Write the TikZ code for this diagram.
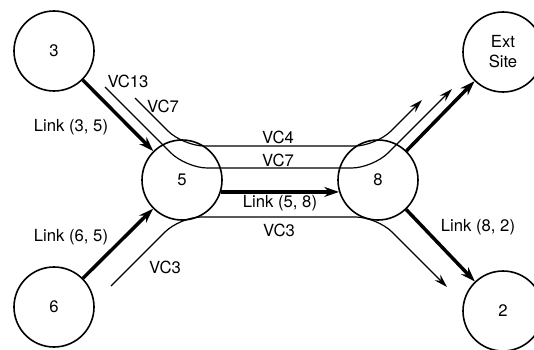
\documentclass[tikz,border=0pt]{standalone}
\usepackage{fontspec}
\setmainfont{TeX Gyre Heros}
\usetikzlibrary{arrows.meta}

\begin{document}
\begin{tikzpicture}[x=0.75pt,y=-0.75pt,
  site/.style={circle,draw,line width=1.2pt,minimum size=60pt,inner sep=0pt,
    align=center,font=\fontsize{12.5}{15}\selectfont},
  link/.style={line width=2.6pt,-{Stealth[length=11pt,width=7.5pt]}},
  vc/.style={line width=0.9pt,rounded corners=16pt,-{Stealth[length=10pt,width=6pt]}},
  lbl/.style={inner sep=0pt,font=\fontsize{12.5}{15}\selectfont}]

\useasboundingbox (0,0) rectangle (534,349);
\clip (0,0) rectangle (534,349);

% sites
\node[site] (n3) at (54,51) {3};
\node[site] (n5) at (182,180) {5};
\node[site] (n8) at (378,180) {8};
\node[site] (n6) at (54,307) {6};
\node[site] (n2) at (503,311) {2};
\node[site] (next) at (503,52) {Ext\\Site};

% links
\draw[link] (n3) -- (n5);
\draw[link] (n6) -- (n5);
\draw[link] (n5.-17) -- (n8.197);
\draw[link] (n8) -- (next);
\draw[link] (n8) -- (n2);

% virtual circuits
\coordinate (in13) at (105,87);
\coordinate (in7) at (135,98);
\coordinate (in3) at (111,286);
\coordinate (out4) at (422,100);
\coordinate (out7) at (452,89);
\coordinate (out3) at (447,287);

\draw[vc] (in13) -- (186,168) -- (373,168) -- (out7);
\draw[vc] (in7) -- (183,146) -- (376,146) -- (out4);
\draw[vc] (in3) -- (180,217) -- (377,217) -- (out3);

% labels
\node[lbl] (l35) at (71,127) {Link (3, 5)};
\node[lbl] (lvc13) at (128,81) {VC13};
\node[lbl] (lvc7a) at (163,106) {VC7};
\node[lbl] (lvc4) at (278,137) {VC4};
\node[lbl] (lvc7b) at (278,160) {VC7};
\node[lbl] (l58) at (280,203) {Link (5, 8)};
\node[lbl] (lvc3b) at (279,230) {VC3};
\node[lbl] (l65) at (71,237) {Link (6, 5)};
\node[lbl] (lvc3a) at (165,267) {VC3};
\node[lbl] (l82) at (478,227) {Link (8, 2)};

\end{tikzpicture}
\end{document}
